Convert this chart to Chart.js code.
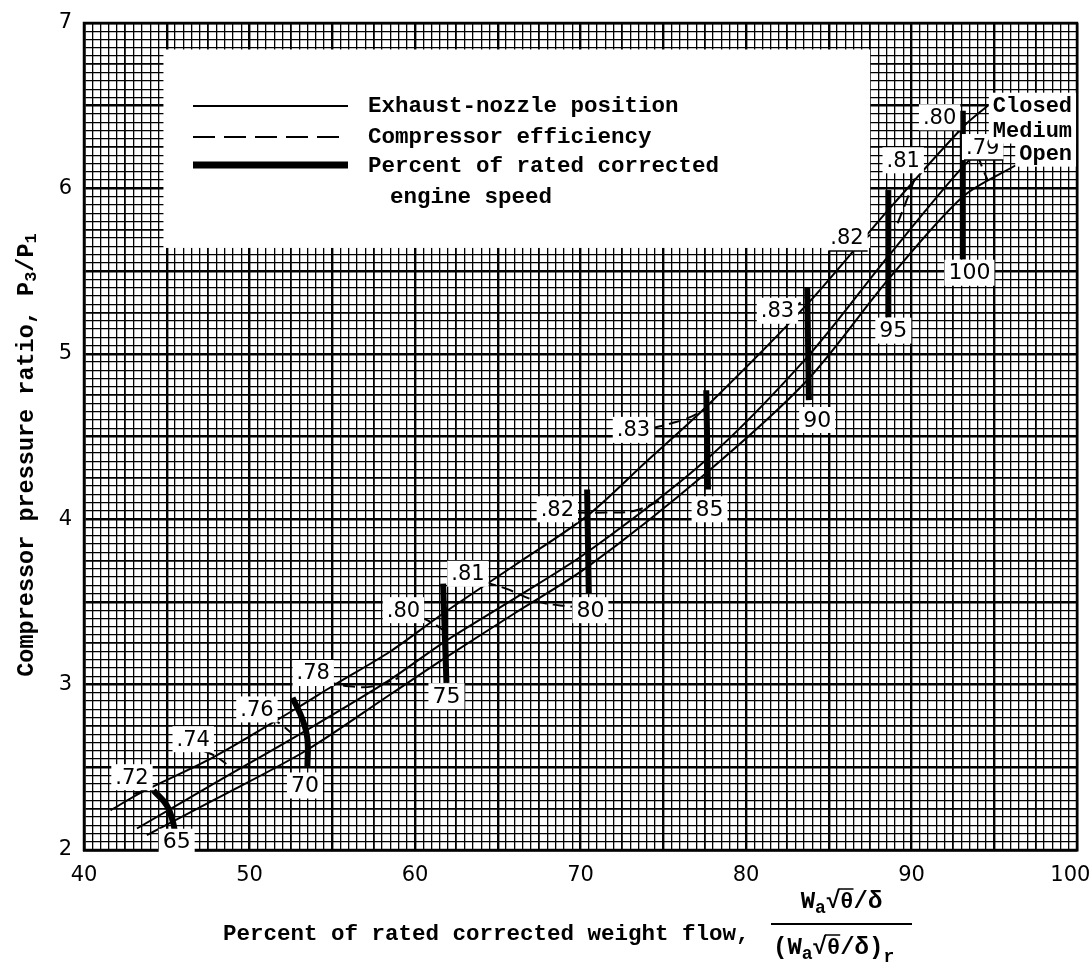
<!DOCTYPE html>
<html>
<head>
<meta charset="utf-8">
<script src="https://cdn.jsdelivr.net/npm/chart.js@4.4.1/dist/chart.umd.min.js"></script>
<style>
    html, body { margin: 0; padding: 0; background: #fff; }
    canvas { display: block; }
</style>
</head>
<body>
<canvas id="mapa" width="1090" height="977"></canvas>
<script>
/* ============================================================
   DATOS
============================================================ */
const xTickLabels = [40, 50, 60, 70, 80, 90, 100];
const yTickLabels = [2, 3, 4, 5, 6, 7];

// posición de tobera (líneas finas)
const nozzleNames = ["Closed", "Medium", "Open"];
const closedX = [41.6, 43.5, 47.8, 52.9, 55.0, 58.5, 61.7, 66.0, 70.4, 74.0, 77.6, 83.7, 88.6, 93.1, 94.6];
const closedY = [2.24, 2.35, 2.56, 2.86, 2.99, 3.20, 3.43, 3.72, 4.02, 4.35, 4.68, 5.30, 5.87, 6.37, 6.50];
const mediumX = [43.2, 48.0, 53.2, 58.5, 61.8, 66.0, 70.4, 77.6, 83.7, 88.6, 93.1, 95.3];
const mediumY = [2.13, 2.41, 2.71, 3.03, 3.26, 3.52, 3.80, 4.36, 4.98, 5.59, 6.13, 6.33];
const openX = [43.8, 48.0, 53.4, 58.5, 61.8, 66.0, 70.4, 77.6, 83.7, 88.6, 93.1, 96.3];
const openY = [2.09, 2.31, 2.60, 2.94, 3.16, 3.43, 3.71, 4.28, 4.84, 5.45, 5.95, 6.14];
const nozzleLabelX = [99.7, 99.7, 99.7];
const nozzleLabelY = [6.50, 6.35, 6.21];

// velocidad corregida (líneas gruesas)
const speedNames = ["65", "70", "75", "80", "85", "90", "95", "100"];
const speedX = [
    [44.2, 45.0, 45.4, 45.5],
    [52.6, 53.2, 53.5, 53.5],
    [61.7, 61.9],
    [70.4, 70.5],
    [77.6, 77.7],
    [83.7, 83.8],
    [88.6, 88.6],
    [93.1, 93.1]
];
const speedY = [
    [2.36, 2.27, 2.16, 2.10],
    [2.92, 2.79, 2.67, 2.50],
    [3.61, 3.01],
    [4.18, 3.55],
    [4.78, 4.18],
    [5.40, 4.72],
    [5.99, 5.22],
    [6.47, 5.57]
];
const speedLabelX = [45.6, 53.35, 61.9, 70.6, 77.8, 84.3, 88.9, 93.5];
const speedLabelY = [2.05, 2.39, 2.93, 3.45, 4.06, 4.60, 5.14, 5.49];

// rendimiento del compresor (discontinuas)
const effNames = [".72", ".74", ".76", ".78", ".80", ".81", ".82", ".83", ".83", ".82", ".81", ".80", ".79"];
const effX = [
    [43.0, 44.0, 44.8],
    [47.2, 47.9, 48.6],
    [51.2, 51.9, 52.5],
    [54.6, 56.0, 57.5, 59.0],
    [60.3, 61.1, 61.7],
    [64.2, 65.5, 67.5, 69.5],
    [69.8, 71.5, 73.2, 75.0],
    [74.3, 75.5, 76.7, 77.6],
    [82.7, 83.3, 83.8],
    [87.0, 87.5],
    [90.2, 89.6, 89.0],
    [92.5, 93.0, 93.2],
    [94.0, 94.3, 94.6]
];
const effY = [
    [2.34, 2.36, 2.31],
    [2.60, 2.57, 2.52],
    [2.80, 2.76, 2.71],
    [3.02, 2.99, 2.99, 3.04],
    [3.41, 3.37, 3.33],
    [3.62, 3.58, 3.50, 3.47],
    [4.04, 4.04, 4.05, 4.12],
    [4.55, 4.58, 4.62, 4.67],
    [5.27, 5.31, 5.36],
    [5.68, 5.72],
    [6.06, 5.90, 5.75],
    [6.40, 6.30, 6.10],
    [6.20, 6.12, 6.05]
];
const effLabelX = [42.9, 46.6, 50.45, 53.85, 59.3, 63.2, 68.6, 73.2, 81.9, 86.1, 89.5, 91.7, 94.3];
const effLabelY = [2.44, 2.67, 2.85, 3.07, 3.45, 3.67, 4.06, 4.54, 5.26, 5.70, 6.17, 6.43, 6.25];
const effUnderlined = [9, 12];

/* ============================================================
   ESTILO
============================================================ */
const MONO = '"Liberation Mono", "DejaVu Sans Mono", monospace';
const SANS = '"DejaVu Sans", sans-serif';
const LEGEND_BOX = { x0: 44.8, x1: 87.5, y0: 5.64, y1: 6.84 };

function pts(xs, ys) {
    return xs.map((x, i) => ({ x, y: ys[i] }));
}

function gridTicks(min, max, step) {
    const t = [];
    const n = Math.round((max - min) / step);
    for (let i = 0; i <= n; i++) t.push({ value: +(min + i * step).toFixed(3) });
    return t;
}

function gridWidth(c) {
    const i = c.index;
    if (i % 10 === 0) return 2.4;
    if (i % 5 === 0) return 1.8;
    return 1.3;
}

/* ============================================================
   DATASETS
============================================================ */
const datasets = [];
[[closedX, closedY], [mediumX, mediumY], [openX, openY]].forEach(([xs, ys], i) => {
    datasets.push({
        label: nozzleNames[i],
        data: pts(xs, ys),
        showLine: true,
        borderColor: "#000",
        borderWidth: 2,
        pointRadius: 0,
        tension: 0.3
    });
});
speedX.forEach((xs, i) => {
    datasets.push({
        label: speedNames[i],
        data: pts(xs, speedY[i]),
        showLine: true,
        borderColor: "#000",
        borderWidth: 6,
        pointRadius: 0,
        tension: 0.4
    });
});
effX.forEach((xs, i) => {
    datasets.push({
        label: effNames[i],
        data: pts(xs, effY[i]),
        showLine: true,
        borderColor: "#000",
        borderWidth: 2,
        borderDash: [12, 6],
        pointRadius: 0,
        tension: 0.4
    });
});

/* ============================================================
   PLUGIN: papel, etiquetas, leyenda y títulos
============================================================ */
function drawBoxLabel(ctx, text, px, py, font, align) {
    ctx.font = font;
    const w = ctx.measureText(text).width;
    let left = px - w / 2;
    if (align === "right") left = px - w;
    ctx.fillStyle = "#fff";
    ctx.fillRect(left - 4, py - 13, w + 8, 26);
    ctx.fillStyle = "#000";
    ctx.textAlign = "left";
    ctx.textBaseline = "middle";
    ctx.fillText(text, left, py + 1);
    return { left, w };
}

function drawRuns(ctx, runs, x, y) {
    // runs: [texto, tamaño, desplazamiento vertical]
    let cx = x;
    const pos = [];
    for (const [t, size, dy] of runs) {
        ctx.font = "bold " + size + "px " + MONO;
        ctx.fillText(t, cx, y + dy);
        const w = ctx.measureText(t).width;
        pos.push([cx, w]);
        cx += w;
    }
    return pos;
}

function runsWidth(ctx, runs) {
    let w = 0;
    for (const [t, size] of runs) {
        ctx.font = "bold " + size + "px " + MONO;
        w += ctx.measureText(t).width;
    }
    return w;
}

const paperPlugin = {
    id: "paper",
    beforeDatasetsDraw(chart) {
        const { ctx, scales: { x, y } } = chart;
        ctx.save();
        ctx.fillStyle = "#fff";
        const l = x.getPixelForValue(LEGEND_BOX.x0);
        const r = x.getPixelForValue(LEGEND_BOX.x1);
        const t = y.getPixelForValue(LEGEND_BOX.y1);
        const b = y.getPixelForValue(LEGEND_BOX.y0);
        ctx.fillRect(l, t, r - l, b - t);
        ctx.restore();
    },
    afterDatasetsDraw(chart) {
        const { ctx, scales: { x, y }, chartArea: a } = chart;
        ctx.save();

        // marco
        ctx.strokeStyle = "#000";
        ctx.lineWidth = 2.5;
        ctx.strokeRect(a.left, a.top, a.right - a.left, a.bottom - a.top);

        // etiquetas de rendimiento
        effNames.forEach((n, i) => {
            const px = x.getPixelForValue(effLabelX[i]);
            const py = y.getPixelForValue(effLabelY[i]);
            const r = drawBoxLabel(ctx, n, px, py, "21px " + SANS);
            if (effUnderlined.includes(i)) {
                ctx.lineWidth = 1.6;
                ctx.beginPath();
                ctx.moveTo(r.left - 2, py + 13);
                ctx.lineTo(r.left + r.w + 4, py + 13);
                ctx.stroke();
            }
        });

        // etiquetas de velocidad
        speedNames.forEach((n, i) => {
            drawBoxLabel(ctx, n, x.getPixelForValue(speedLabelX[i]), y.getPixelForValue(speedLabelY[i]), "22px " + SANS);
        });

        // etiquetas de tobera
        nozzleNames.forEach((n, i) => {
            drawBoxLabel(ctx, n, x.getPixelForValue(nozzleLabelX[i]), y.getPixelForValue(nozzleLabelY[i]), "bold 22px " + MONO, "right");
        });

        // leyenda
        const lx0 = 193, lx1 = 348, tx = 368;
        ctx.strokeStyle = "#000";
        ctx.lineCap = "butt";
        ctx.lineWidth = 2;
        ctx.beginPath(); ctx.moveTo(lx0, 106); ctx.lineTo(lx1, 106); ctx.stroke();
        ctx.setLineDash([22, 9]);
        ctx.beginPath(); ctx.moveTo(lx0, 137); ctx.lineTo(lx1, 137); ctx.stroke();
        ctx.setLineDash([]);
        ctx.lineWidth = 7;
        ctx.beginPath(); ctx.moveTo(lx0, 165); ctx.lineTo(lx1, 165); ctx.stroke();

        ctx.fillStyle = "#000";
        ctx.font = "bold 22.5px " + MONO;
        ctx.textAlign = "left";
        ctx.textBaseline = "middle";
        ctx.fillText("Exhaust-nozzle position", tx, 106);
        ctx.fillText("Compressor efficiency", tx, 137);
        ctx.fillText("Percent of rated corrected", tx, 166);
        ctx.fillText("engine speed", tx + 22, 197);

        // título eje x
        ctx.textBaseline = "middle";
        ctx.fillText("Percent of rated corrected weight flow,", 223, 934);

        const num = [["W", 24, 0], ["a", 18, 6], ["\u221A", 24, 0], ["\u03B8", 22, 0], ["/\u03B4", 24, 0]];
        const den = [["(W", 24, 0], ["a", 18, 6], ["\u221A", 24, 0], ["\u03B8", 22, 0], ["/\u03B4)", 24, 0], ["r", 18, 9]];
        const fx0 = 771, fx1 = 912, fy = 924;
        ctx.lineWidth = 2;
        ctx.beginPath(); ctx.moveTo(fx0, fy); ctx.lineTo(fx1, fy); ctx.stroke();
        const nw = runsWidth(ctx, num);
        let p = drawRuns(ctx, num, (fx0 + fx1) / 2 - nw / 2, 902);
        ctx.lineWidth = 1.5;
        ctx.beginPath(); ctx.moveTo(p[2][0] + p[2][1] - 2, 889); ctx.lineTo(p[3][0] + p[3][1], 889); ctx.stroke();
        p = drawRuns(ctx, den, fx0 + 2, 948);
        ctx.beginPath(); ctx.moveTo(p[2][0] + p[2][1] - 2, 935); ctx.lineTo(p[3][0] + p[3][1], 935); ctx.stroke();

        // título eje y
        const ytitle = [["Compressor pressure ratio, P", 23.5, 0], ["3", 17, 5], ["/P", 23.5, 0], ["1", 17, 5]];
        const yw = runsWidth(ctx, ytitle);
        ctx.translate(27, 455 + yw / 2);
        ctx.rotate(-Math.PI / 2);
        drawRuns(ctx, ytitle, 0, 0);

        ctx.restore();
    }
};

/* ============================================================
   GRÁFICO
============================================================ */
new Chart(document.getElementById("mapa"), {
    type: "scatter",
    data: { datasets },
    options: {
        responsive: false,
        animation: false,
        layout: { autoPadding: false, padding: { top: 23, right: 13, left: 0, bottom: 0 } },
        plugins: { legend: { display: false }, tooltip: { enabled: false } },
        scales: {
            x: {
                type: "linear",
                min: 40,
                max: 100,
                afterBuildTicks: s => { s.ticks = gridTicks(40, 100, 0.5); },
                afterFit: s => { s.height = 127; s.paddingLeft = 0; s.paddingRight = 0; },
                ticks: {
                    autoSkip: false,
                    maxRotation: 0,
                    padding: 13,
                    color: "#000",
                    font: { family: SANS, size: 21 },
                    callback: v => {
                        if (!xTickLabels.includes(v)) return "";
                        return v === 100 ? "100\u00A0\u00A0" : String(v);
                    }
                },
                grid: { color: "#000", lineWidth: gridWidth, drawTicks: false },
                border: { display: true, color: "#000", width: 2.5 }
            },
            y: {
                type: "linear",
                min: 2,
                max: 7,
                afterBuildTicks: s => { s.ticks = gridTicks(2, 7, 0.05); },
                afterFit: s => { s.width = 84; s.paddingTop = 0; s.paddingBottom = 0; },
                ticks: {
                    autoSkip: false,
                    padding: 12,
                    color: "#000",
                    font: { family: SANS, size: 21 },
                    callback: v => (yTickLabels.includes(v) ? String(v) : "")
                },
                grid: { color: "#000", lineWidth: gridWidth, drawTicks: false },
                border: { display: true, color: "#000", width: 2.5 }
            }
        }
    },
    plugins: [paperPlugin]
});
</script>
</body>
</html>
